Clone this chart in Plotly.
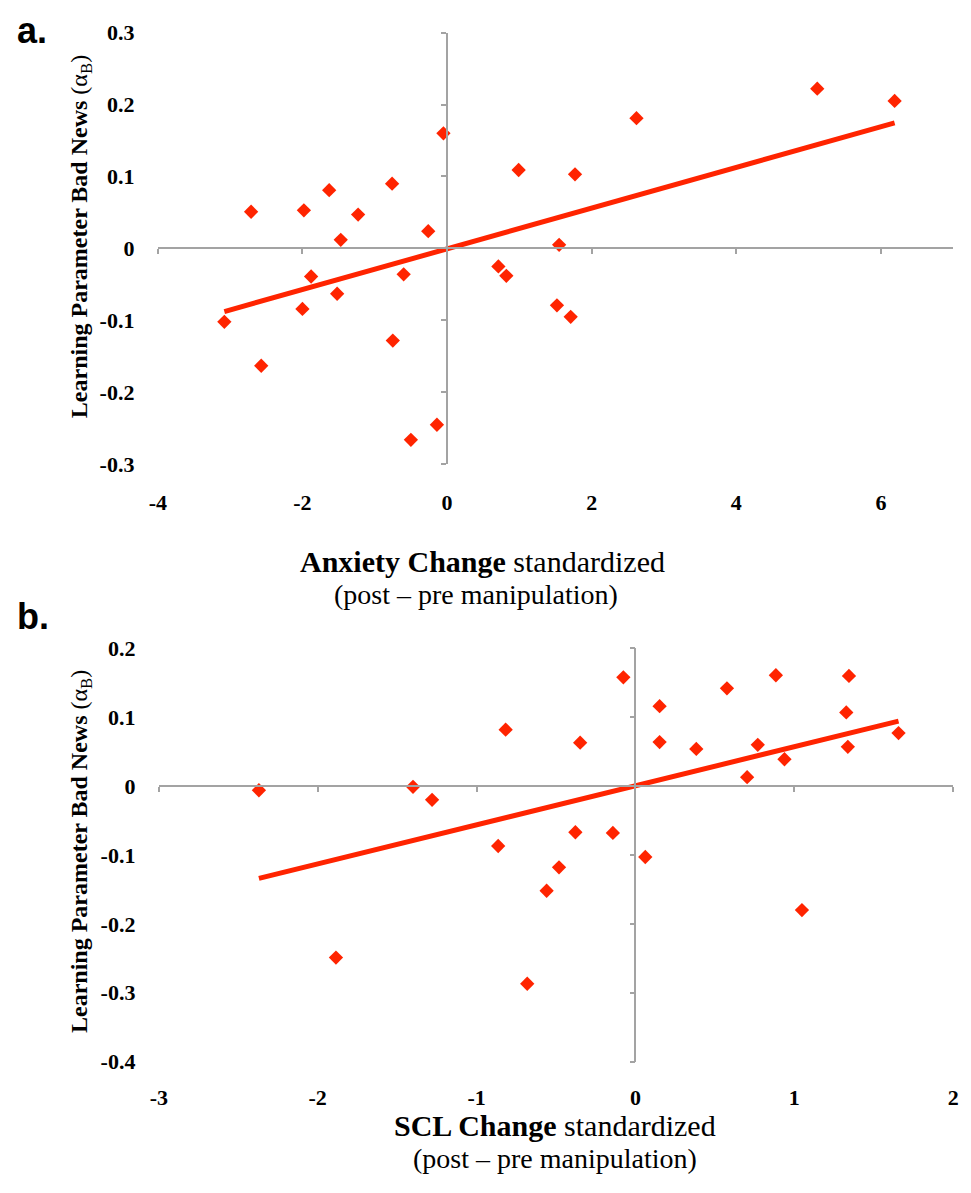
import numpy as np
import plotly.graph_objects as go

# ---------------- data ----------------
anx_x = [-3.08, -2.71, -2.57, -2.00, -1.98, -1.88, -1.63, -1.52, -1.47, -1.23,
         -0.76, -0.75, -0.60, -0.50, -0.26, -0.14, -0.05,
         0.71, 0.82, 0.99, 1.52, 1.55, 1.71, 1.77, 2.62, 5.12, 6.19]
anx_y = [-0.102, 0.051, -0.163, -0.084, 0.053, -0.039, 0.081, -0.063, 0.012, 0.047,
         0.090, -0.128, -0.036, -0.266, 0.024, -0.245, 0.160,
         -0.025, -0.038, 0.109, -0.079, 0.005, -0.095, 0.103, 0.181, 0.222, 0.205]

scl_x = [-2.37, -1.40, -1.28, -1.885, -0.864, -0.817, -0.681, -0.559, -0.481, -0.378,
         -0.348, -0.142, -0.076, 0.062, 0.152, 0.152, 0.383, 0.576, 0.703, 0.770,
         0.884, 0.938, 1.048, 1.327, 1.337, 1.344, 1.656]
scl_y = [-0.006, -0.001, -0.020, -0.249, -0.087, 0.082, -0.287, -0.152, -0.118, -0.067,
         0.063, -0.068, 0.158, -0.103, 0.116, 0.064, 0.054, 0.142, 0.013, 0.060,
         0.161, 0.039, -0.180, 0.107, 0.057, 0.160, 0.077]

a_xticks = [-4, -2, 0, 2, 4, 6]
a_xticklabels = ["-4", "-2", "0", "2", "4", "6"]
a_yticks = [-0.3, -0.2, -0.1, 0, 0.1, 0.2, 0.3]
a_yticklabels = ["-0.3", "-0.2", "-0.1", "0", "0.1", "0.2", "0.3"]

b_xticks = [-3, -2, -1, 0, 1, 2]
b_xticklabels = ["-3", "-2", "-1", "0", "1", "2"]
b_yticks = [-0.4, -0.3, -0.2, -0.1, 0, 0.1, 0.2]
b_yticklabels = ["-0.4", "-0.3", "-0.2", "-0.1", "0", "0.1", "0.2"]

a_xrange = [-4, 7]
a_yrange = [-0.3, 0.3]
b_xrange = [-3, 2]
b_yrange = [-0.4, 0.2]

# ---------------- styling ----------------
W, H = 971, 1193
RED = "#ff2400"
GRAY = "#a3a3a3"
SERIF = "Liberation Serif"


def px_x(p):
    return p / W


def px_y(p):
    return 1 - p / H


a_dom_x = [px_x(151), px_x(958)]
a_dom_y = [px_y(462), px_y(21)]
b_dom_x = [px_x(152), px_x(958)]
b_dom_y = [px_y(1072), px_y(650)]


def frac(v, rng):
    return (v - rng[0]) / (rng[1] - rng[0])


def zero_pos(dom, rng):
    return dom[0] + frac(0, rng) * (dom[1] - dom[0])


fig = go.Figure()

# dummy traces to create the base subplots (zero-crossing axes)
fig.add_trace(go.Scatter(x=[], y=[], xaxis="x", yaxis="y", showlegend=False, hoverinfo="skip"))
fig.add_trace(go.Scatter(x=[], y=[], xaxis="x2", yaxis="y2", showlegend=False, hoverinfo="skip"))


def add_panel(xs, ys, xa, ya):
    xs = np.array(xs)
    ys = np.array(ys)
    slope, intercept = np.polyfit(xs, ys, 1)
    lx = np.array([xs.min(), xs.max()])
    fig.add_trace(go.Scatter(x=lx, y=slope * lx + intercept, mode="lines",
                             line=dict(color=RED, width=5), xaxis=xa, yaxis=ya,
                             showlegend=False, hoverinfo="skip"))
    fig.add_trace(go.Scatter(x=xs, y=ys, mode="markers",
                             marker=dict(symbol="diamond", size=11, color=RED,
                                         line=dict(width=0)),
                             xaxis=xa, yaxis=ya, showlegend=False))


add_panel(anx_x, anx_y, "x3", "y3")
add_panel(scl_x, scl_y, "x4", "y4")

tickfont = dict(family=SERIF, size=22, color="black", weight="bold")

base_line = dict(showline=True, linecolor=GRAY, linewidth=1.5, ticks="outside",
                 ticklen=5, tickcolor=GRAY, tickwidth=1.5, showticklabels=False,
                 showgrid=False, zeroline=False, anchor="free")
label_ax = dict(showline=False, showgrid=False, zeroline=False, ticks="outside",
                tickcolor="rgba(0,0,0,0)", tickfont=tickfont)

fig.update_layout(
    width=W, height=H,
    margin=dict(l=0, r=0, t=0, b=0),
    paper_bgcolor="white", plot_bgcolor="rgba(0,0,0,0)",
    # panel a base (crossing) axes
    xaxis=dict(**base_line, domain=a_dom_x, range=a_xrange, tickvals=a_xticks,
               position=zero_pos(a_dom_y, a_yrange)),
    yaxis=dict(**base_line, domain=a_dom_y, range=a_yrange, tickvals=a_yticks,
               position=zero_pos(a_dom_x, a_xrange)),
    # panel b base (crossing) axes
    xaxis2=dict(**base_line, domain=b_dom_x, range=b_xrange, tickvals=b_xticks,
                position=zero_pos(b_dom_y, b_yrange)),
    yaxis2=dict(**base_line, domain=b_dom_y, range=b_yrange, tickvals=b_yticks,
                position=zero_pos(b_dom_x, b_xrange)),
    # panel a labels + data
    xaxis3=dict(**label_ax, overlaying="x", anchor="y3", range=a_xrange,
                tickvals=a_xticks, ticktext=a_xticklabels, ticklen=18),
    yaxis3=dict(**label_ax, overlaying="y", anchor="x3", range=a_yrange,
                tickvals=a_yticks, ticktext=a_yticklabels, ticklen=18),
    # panel b labels + data
    xaxis4=dict(**label_ax, overlaying="x2", anchor="y4", range=b_xrange,
                tickvals=b_xticks, ticktext=b_xticklabels, ticklen=16),
    yaxis4=dict(**label_ax, overlaying="y2", anchor="x4", range=b_yrange,
                tickvals=b_yticks, ticktext=b_yticklabels, ticklen=18),
)

ytitle = "<b>Learning Parameter Bad News</b> (α<sub>B</sub>)"
ann = [
    dict(text="<b>a.</b>", x=px_x(6), y=px_y(19), xanchor="left", yanchor="middle",
         font=dict(family="Liberation Sans", size=36, color="black")),
    dict(text="<b>b.</b>", x=px_x(6), y=px_y(617), xanchor="left", yanchor="middle",
         font=dict(family="Liberation Sans", size=36, color="black")),
    dict(text=ytitle, x=px_x(73), y=px_y(229), textangle=-90, xanchor="center",
         yanchor="middle", font=dict(family=SERIF, size=24, color="black")),
    dict(text=ytitle, x=px_x(73), y=px_y(857), textangle=-90, xanchor="center",
         yanchor="middle", font=dict(family=SERIF, size=24, color="black")),
    dict(text="<b>Anxiety Change</b> standardized", x=px_x(480), y=px_y(561),
         xanchor="center", yanchor="middle", font=dict(family=SERIF, size=30, color="black")),
    dict(text="(post – pre manipulation)", x=px_x(474), y=px_y(595),
         xanchor="center", yanchor="middle", font=dict(family=SERIF, size=28, color="black")),
    dict(text="<b>SCL Change</b> standardized", x=px_x(554), y=px_y(1137),
         xanchor="center", yanchor="middle", font=dict(family=SERIF, size=30, color="black")),
    dict(text="(post – pre manipulation)", x=px_x(554), y=px_y(1171),
         xanchor="center", yanchor="middle", font=dict(family=SERIF, size=28, color="black")),
]
for a in ann:
    a.update(xref="paper", yref="paper", showarrow=False)
fig.update_layout(annotations=ann)

fig.write_html("out.html", post_script="document.body.style.margin='0';")
